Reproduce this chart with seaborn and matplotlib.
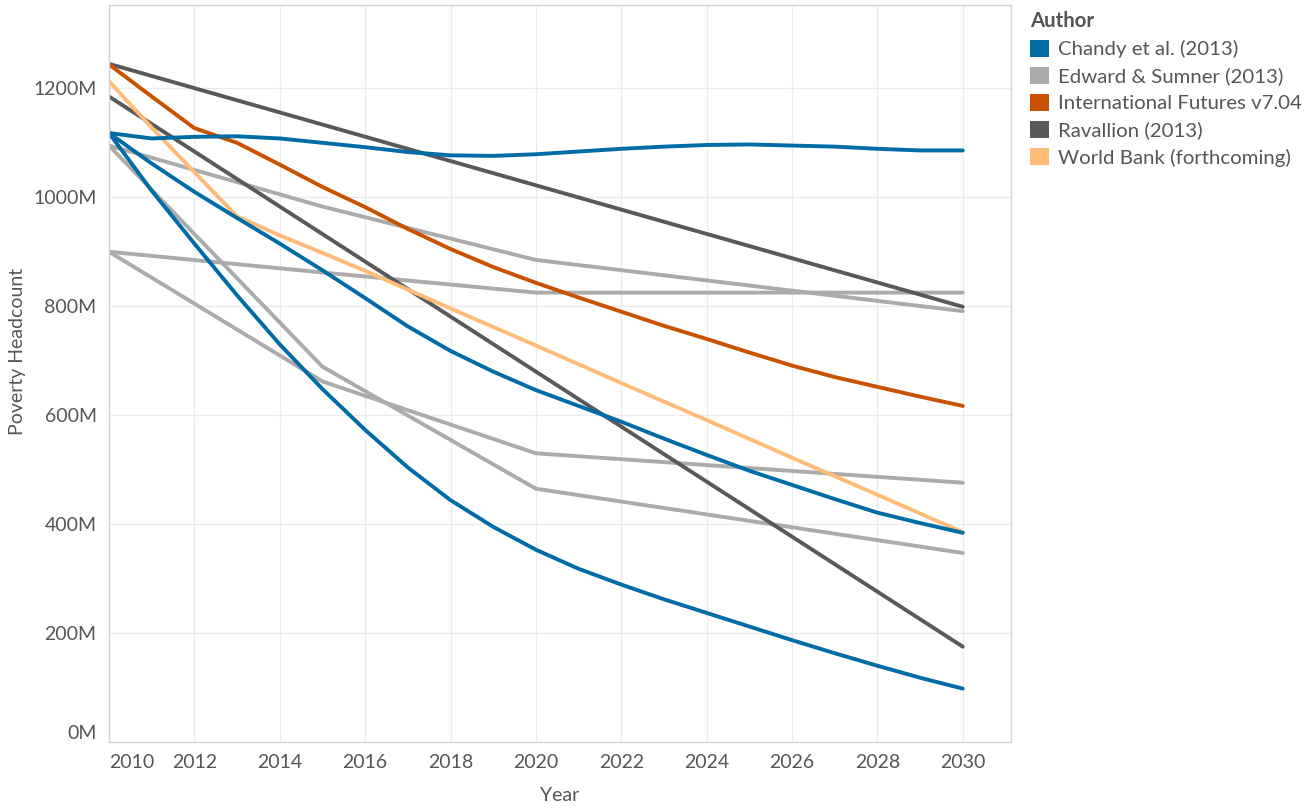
import pandas as pd
import matplotlib.pyplot as plt
import seaborn as sns
from matplotlib.patches import Patch

# Values in millions of people
years = list(range(2010, 2031))

chandy_flat = [1118, 1108, 1111, 1112, 1108, 1100, 1092, 1083, 1077, 1076, 1079,
               1084, 1089, 1093, 1096, 1097, 1095, 1093, 1089, 1086, 1086]
chandy_mid = [1118, 1062, 1010, 962, 915, 866, 815, 763, 718, 680, 646,
              617, 588, 557, 527, 498, 472, 446, 421, 402, 384]
chandy_low = [1118, 1012, 915, 820, 730, 648, 573, 504, 444, 395, 353,
              318, 289, 262, 237, 212, 187, 163, 140, 118, 98]

edward_years = [2010, 2015, 2020, 2030]
edward_upper = [1095, 983, 885, 791]
edward_flat = [900, 862, 825, 825]
edward_steep = [1095, 689, 465, 347]
edward_lower = [900, 662, 530, 476]

ifs = [1244, 1185, 1127, 1100, 1060, 1019, 982, 942, 905, 872, 843,
       816, 790, 764, 740, 715, 691, 670, 652, 634, 617]

ravallion_years = [2010, 2030]
ravallion_high = [1245, 799]
ravallion_low = [1185, 175]

wb_years = [2010, 2011, 2012, 2013, 2014, 2015, 2016, 2018, 2020, 2022, 2024, 2026, 2028, 2030]
wb = [1213, 1128, 1046, 965, 930, 898, 865, 796, 728, 659, 591, 522, 454, 385]

authors = ['Chandy et al. (2013)', 'Edward & Sumner (2013)', 'International Futures v7.04',
           'Ravallion (2013)', 'World Bank (forthcoming)']
colors = ['#006BA4', '#ABABAB', '#C85200', '#595959', '#FFBC79']

series = [
    (authors[1], 'es1', edward_years, edward_upper),
    (authors[1], 'es2', edward_years, edward_flat),
    (authors[1], 'es3', edward_years, edward_steep),
    (authors[1], 'es4', edward_years, edward_lower),
    (authors[3], 'rv1', ravallion_years, ravallion_high),
    (authors[3], 'rv2', ravallion_years, ravallion_low),
    (authors[4], 'wb', wb_years, wb),
    (authors[2], 'ifs', years, ifs),
    (authors[0], 'ch1', years, chandy_flat),
    (authors[0], 'ch2', years, chandy_mid),
    (authors[0], 'ch3', years, chandy_low),
]
rows = []
for author, unit, xs, ys in series:
    for x, y in zip(xs, ys):
        rows.append({'Author': author, 'Scenario': unit, 'Year': x, 'Headcount': y})
df = pd.DataFrame(rows)

sns.set_style('white')
plt.rcParams['font.family'] = ['Lato', 'DejaVu Sans']

fig = plt.figure(figsize=(13.14, 8.08), dpi=100)
ax = fig.add_axes([109 / 1314, 66 / 808, 902 / 1314, 737 / 808])

sns.lineplot(data=df, x='Year', y='Headcount', hue='Author', units='Scenario',
             estimator=None, palette=dict(zip(authors, colors)), linewidth=2.8,
             legend=False, ax=ax)

ax.set_xlim(2010, 2031.13)
ax.set_ylim(0, 1353)
ax.set_xticks(range(2010, 2031, 2))
ax.set_yticks(range(0, 1201, 200))
ax.set_yticklabels([f'{v}M' for v in range(0, 1201, 200)])
ax.grid(True, color='#ececec', linewidth=1)
for s in ax.spines.values():
    s.set_color('#d4d4d4')
    s.set_linewidth(1)
ax.tick_params(axis='both', length=6, width=1, color='#d4d4d4', labelsize=14,
               labelcolor='#555555', pad=3)
ax.get_xticklabels()[0].set_horizontalalignment('left')
ax.get_yticklabels()[0].set_verticalalignment('bottom')

ax.set_xlabel('Year', fontsize=14, color='#555555')
ax.set_ylabel('Poverty Headcount', fontsize=14, color='#555555')
ax.xaxis.set_label_coords(0.5, -0.072)
ax.yaxis.set_label_coords(-0.101, 0.53)
ax.xaxis.label.set_verticalalignment('center')
ax.yaxis.label.set_verticalalignment('center')

handles = [Patch(facecolor=c, edgecolor='none') for c in colors]
fig.legend(handles, authors, loc='upper left', bbox_to_anchor=(1022 / 1314, 1 - 3 / 808),
           frameon=False, title='Author', alignment='left', fontsize=14.7,
           title_fontproperties={'weight': 'bold', 'size': 14.7},
           handlelength=0.9, handleheight=0.9, handletextpad=0.45,
           labelspacing=0.42, borderaxespad=0)
for t in fig.legends[0].get_texts():
    t.set_color('#555555')
fig.legends[0].get_title().set_color('#555555')

plt.savefig('out.png', dpi=100)
plt.close()
